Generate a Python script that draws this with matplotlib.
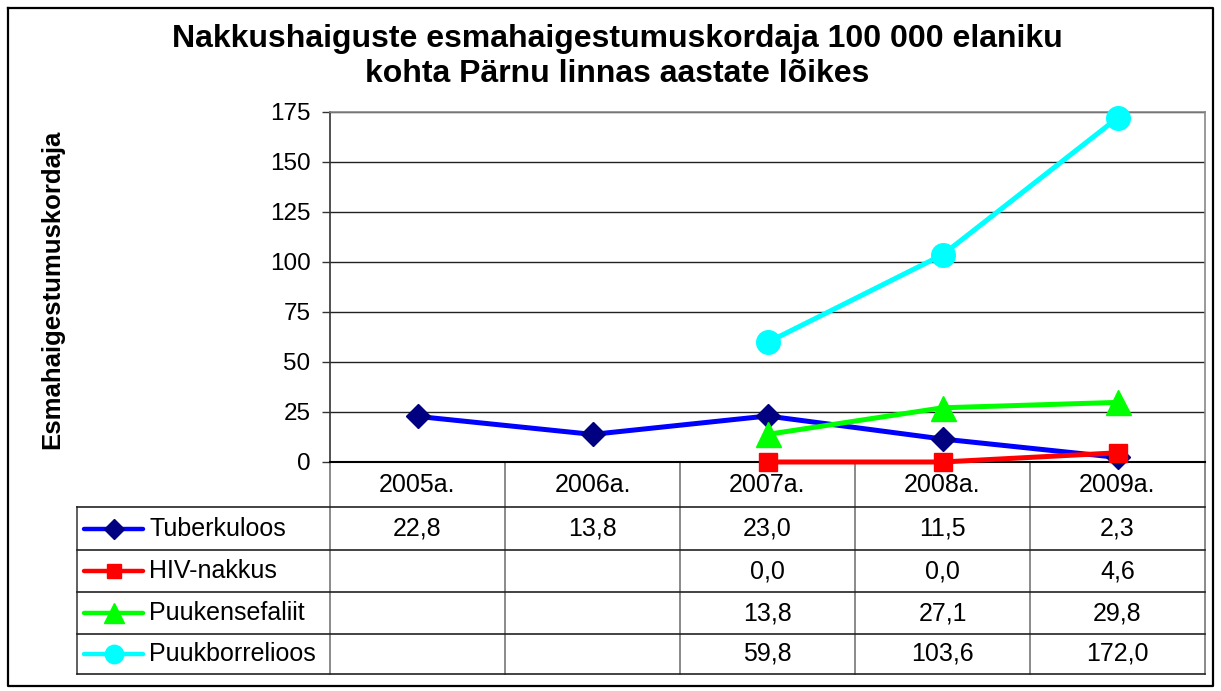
import numpy as np
import matplotlib.pyplot as plt

plt.rcParams['font.family'] = ['Liberation Sans', 'DejaVu Sans']

years = ['2005a.', '2006a.', '2007a.', '2008a.', '2009a.']
tuberkuloos = [22.8, 13.8, 23.0, 11.5, 2.3]
hiv_nakkus = [np.nan, np.nan, 0.0, 0.0, 4.6]
puukensefaliit = [np.nan, np.nan, 13.8, 27.1, 29.8]
puukborrelioos = [np.nan, np.nan, 59.8, 103.6, 172.0]
names = ['Tuberkuloos', 'HIV-nakkus', 'Puukensefaliit', 'Puukborrelioos']
y_ticks = [0, 25, 50, 75, 100, 125, 150, 175]

title_lines = ['Nakkushaiguste esmahaigestumuskordaja 100 000 elaniku',
               'kohta Pärnu linnas aastate lõikes']
ylabel = 'Esmahaigestumuskordaja'

# style per series: line colour, marker, marker colour, marker size
styles = [
    dict(color='#0000FF', marker='D', mfc='#000080', ms=12.5),
    dict(color='#FF0000', marker='s', mfc='#FF0000', ms=13),
    dict(color='#00FF00', marker='^', mfc='#00FF00', ms=18),
    dict(color='#00FFFF', marker='o', mfc='#00FFFF', ms=17),
]
series = [tuberkuloos, hiv_nakkus, puukensefaliit, puukborrelioos]

W, H = 1221, 691
fig = plt.figure(figsize=(W / 100, H / 100), dpi=100)

# pixel-space overlay for frame, title and data table
bg = fig.add_axes([0, 0, 1, 1])
bg.set_xlim(0, W)
bg.set_ylim(H, 0)
bg.axis('off')

L, R, T, B = 330, 1205, 112, 462
ax = fig.add_axes([L / W, 1 - B / H, (R - L) / W, (B - T) / H])

x = np.arange(len(years))
for vals, st in zip(series, styles):
    ax.plot(x, vals, color=st['color'], lw=3.6, marker=st['marker'],
            ms=st['ms'], mfc=st['mfc'], mec=st['mfc'], clip_on=False, zorder=3)

ax.set_xlim(-0.5, len(years) - 0.5)
ax.set_ylim(0, 175)
ax.set_yticks(y_ticks)
ax.set_yticklabels([str(t) for t in y_ticks], fontsize=17.5)
ax.set_xticks([])
ax.tick_params(axis='y', direction='out', length=6, width=1, pad=8, color='#333333')
ax.grid(axis='y', color='#222222', lw=1)
for s in ['top', 'right']:
    ax.spines[s].set_color('#888888')
    ax.spines[s].set_linewidth(1.2)
ax.spines['left'].set_color('#333333')
ax.spines['bottom'].set_color('#000000')
ax.spines['left'].set_linewidth(1.2)
ax.spines['bottom'].set_linewidth(1.5)

# outer border
bg.plot([8, 1213, 1213, 8, 8], [8, 8, 686, 686, 8], color='black', lw=1.6)

# titles
bg.text(617, 39, title_lines[0], ha='center', va='center', fontsize=23, fontweight='bold')
bg.text(617, 74, title_lines[1], ha='center', va='center', fontsize=23, fontweight='bold')
bg.text(52, 289, ylabel, ha='center', va='center', rotation=90, fontsize=18.5, fontweight='bold')

# data table
col_w = (R - L) / len(years)
col_edges = [L + i * col_w for i in range(len(years) + 1)]
row_edges = [B, 507, 550, 592, 634, 674]
LEG_L = 77
for cx in col_edges:
    bg.plot([cx, cx], [B, row_edges[-1]], color='#777777', lw=1.2)
bg.plot([LEG_L, LEG_L], [row_edges[1], row_edges[-1]], color='#444444', lw=1.2)
for ry in row_edges[1:]:
    bg.plot([LEG_L, R], [ry, ry], color='#222222', lw=1.2)

for i, yr in enumerate(years):
    cx = L + (i + 0.5) * col_w
    bg.text(cx, (row_edges[0] + row_edges[1]) / 2, yr, ha='center', va='center', fontsize=18)

for r, (vals, st, name) in enumerate(zip(series, styles, names)):
    cy = (row_edges[r + 1] + row_edges[r + 2]) / 2
    bg.plot([84, 143], [cy, cy], color=st['color'], lw=3.2, solid_capstyle='round')
    bg.plot([114], [cy], marker=st['marker'], ms=st['ms'] * 0.78,
            mfc=st['mfc'], mec=st['mfc'], lw=0)
    bg.text(149, cy, name, ha='left', va='center', fontsize=18)
    for i, v in enumerate(vals):
        if np.isnan(v):
            continue
        cx = L + (i + 0.5) * col_w
        bg.text(cx, cy, f'{v:.1f}'.replace('.', ','), ha='center', va='center', fontsize=18)

fig.savefig('out.png', dpi=100)
